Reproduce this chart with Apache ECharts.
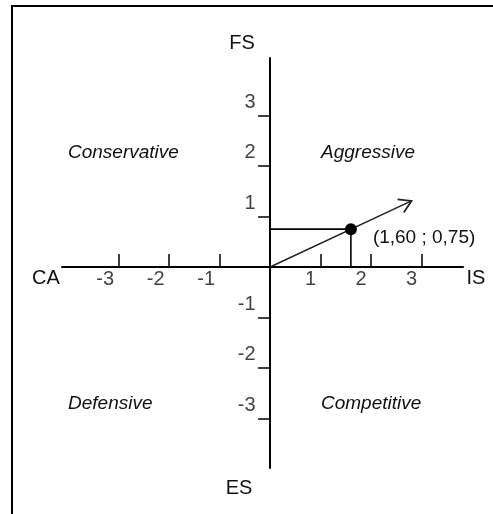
<!DOCTYPE html>
<html>
<head>
<meta charset="utf-8">
<script src="https://cdn.jsdelivr.net/npm/echarts@6/dist/echarts.min.js"></script>
<style>
html,body{margin:0;padding:0;background:#fff;}
#chart{width:493px;height:514px;}
</style>
</head>
<body>
<div id="chart"></div>
<script>
// ---- data ----
const xTickValues = [-3, -2, -1, 1, 2, 3];
const yTickValues = [-3, -2, -1, 1, 2, 3];
const resultPoint = [1.60, 0.75];
const resultLabel = '(1,60 ; 0,75)';
const arrowVector = [0, 0, 2.8, 1.31];
const axisNames = { left: 'CA', right: 'IS', top: 'FS', bottom: 'ES' };
const quadrantNames = ['Conservative', 'Aggressive', 'Defensive', 'Competitive'];

const FONT = 'Liberation Sans, Arial, sans-serif';
const chart = echarts.init(document.getElementById('chart'), null, { renderer: 'canvas' });

const guide = [[0, resultPoint[1]], [resultPoint[0], resultPoint[1]], [resultPoint[0], 0]];
const xLabelPts = xTickValues.map(v => [v, 0]);
const yLabelPts = yTickValues.map(v => [0, v]);

const option = {
  backgroundColor: '#fff',
  animation: false,
  grid: { left: 62, right: 30, top: 58, bottom: 46, containLabel: false },
  xAxis: {
    type: 'value', min: -4.12, max: 3.82,
    axisLine: { onZero: true, lineStyle: { color: '#000', width: 2 } },
    axisTick: { show: true, inside: true, length: 13, customValues: xTickValues, lineStyle: { color: '#000', width: 1.5 } },
    axisLabel: { show: false },
    splitLine: { show: false }
  },
  yAxis: {
    type: 'value', min: -3.98, max: 4.14,
    axisLine: { onZero: true, lineStyle: { color: '#000', width: 2 } },
    axisTick: { show: true, inside: false, length: 12, customValues: yTickValues, lineStyle: { color: '#000', width: 1.5 } },
    axisLabel: { show: false },
    splitLine: { show: false }
  },
  series: [
    {
      type: 'line', data: guide, symbol: 'none', silent: true,
      lineStyle: { color: '#000', width: 1.6 }, z: 3
    },
    {
      type: 'custom', data: [arrowVector], silent: true, z: 4,
      renderItem: function (params, api) {
        const p0 = api.coord([api.value(0), api.value(1)]);
        const p1 = api.coord([api.value(2), api.value(3)]);
        const ang = Math.atan2(p1[1] - p0[1], p1[0] - p0[0]);
        const L = 14, spread = 0.55;
        const a1 = [p1[0] - L * Math.cos(ang - spread), p1[1] - L * Math.sin(ang - spread)];
        const a2 = [p1[0] - L * Math.cos(ang + spread), p1[1] - L * Math.sin(ang + spread)];
        return {
          type: 'group',
          children: [
            { type: 'line', shape: { x1: p0[0], y1: p0[1], x2: p1[0], y2: p1[1] },
              style: { stroke: '#222', lineWidth: 1.5 } },
            { type: 'polyline', shape: { points: [a1, p1, a2] },
              style: { stroke: '#222', lineWidth: 1.8, fill: 'none' } }
          ]
        };
      }
    },
    {
      type: 'scatter', data: [resultPoint], symbolSize: 12, z: 5,
      itemStyle: { color: '#000', opacity: 1 },
      label: { show: true, position: 'right', offset: [11, 9], formatter: resultLabel,
        fontFamily: FONT, fontSize: 19, color: '#111' }
    },
    {
      type: 'scatter', data: xLabelPts, symbol: 'circle', symbolSize: 1, silent: true, z: 6,
      itemStyle: { color: 'rgba(0,0,0,0)' },
      label: { show: true, position: [0, 0], align: 'right', verticalAlign: 'top', offset: [-4, 3],
        formatter: p => String(p.value[0]), fontFamily: FONT, fontSize: 20, color: '#111' }
    },
    {
      type: 'scatter', data: yLabelPts, symbol: 'circle', symbolSize: 1, silent: true, z: 6,
      itemStyle: { color: 'rgba(0,0,0,0)' },
      label: { show: true, position: [0, 0], align: 'right', verticalAlign: 'bottom', offset: [-14, -3],
        formatter: p => String(p.value[1]), fontFamily: FONT, fontSize: 20, color: '#111' }
    }
  ],
  graphic: [
    { type: 'rect', shape: { x: 12, y: 6, width: 700, height: 700 },
      style: { fill: 'none', stroke: '#000', lineWidth: 2 }, silent: true },
    { type: 'text', x: 242, y: 43, style: { text: axisNames.top, font: '20px ' + FONT, fill: '#111', align: 'center', verticalAlign: 'middle' } },
    { type: 'text', x: 239, y: 488, style: { text: axisNames.bottom, font: '20px ' + FONT, fill: '#111', align: 'center', verticalAlign: 'middle' } },
    { type: 'text', x: 46, y: 278, style: { text: axisNames.left, font: '20px ' + FONT, fill: '#111', align: 'center', verticalAlign: 'middle' } },
    { type: 'text', x: 476, y: 278, style: { text: axisNames.right, font: '20px ' + FONT, fill: '#111', align: 'center', verticalAlign: 'middle' } },
    { type: 'text', x: 68, y: 153, style: { text: quadrantNames[0], font: 'italic 19px ' + FONT, fill: '#111', align: 'left', verticalAlign: 'middle' } },
    { type: 'text', x: 321, y: 153, style: { text: quadrantNames[1], font: 'italic 19px ' + FONT, fill: '#111', align: 'left', verticalAlign: 'middle' } },
    { type: 'text', x: 68, y: 404, style: { text: quadrantNames[2], font: 'italic 19px ' + FONT, fill: '#111', align: 'left', verticalAlign: 'middle' } },
    { type: 'text', x: 321, y: 404, style: { text: quadrantNames[3], font: 'italic 19px ' + FONT, fill: '#111', align: 'left', verticalAlign: 'middle' } }
  ]
};
chart.setOption(option);
</script>
</body>
</html>
